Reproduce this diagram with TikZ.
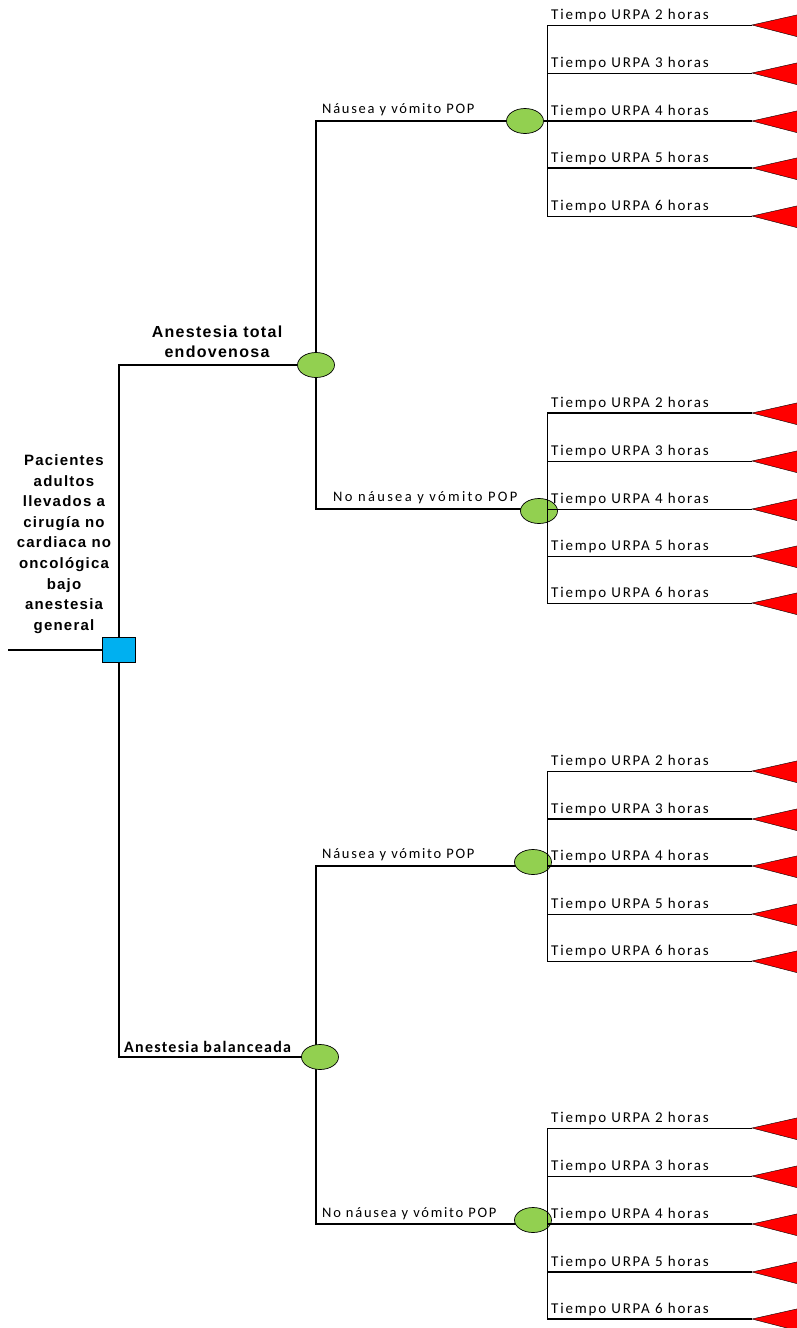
\documentclass[tikz,border=0pt]{standalone}
\usepackage{fontspec}
\setmainfont{Carlito}
\newfontfamily\lblfont[LetterSpace=12]{Carlito}
\newfontfamily\lblwide[LetterSpace=16]{Carlito}
\newfontfamily\lblbold[LetterSpace=8]{Carlito Bold}
\newfontfamily\arialbold[LetterSpace=8]{Liberation Sans Bold}
\usetikzlibrary{shapes.geometric,backgrounds}
\definecolor{chancegreen}{HTML}{92D050}
\definecolor{decblue}{HTML}{00B0F0}
\definecolor{termred}{HTML}{FF0000}
\begin{document}
\begin{tikzpicture}[x=1pt,y=-1pt,
  chance/.style={ellipse,draw=black,line width=0.7pt,fill=chancegreen,minimum width=37pt,minimum height=25pt,inner sep=0pt},
  decision/.style={rectangle,draw=black,line width=0.7pt,fill=decblue,minimum width=33pt,minimum height=25pt,inner sep=0pt},
  mainline/.style={line width=1.6pt},
  fanline/.style={line width=0.8pt},
  term/.style={fill=termred,draw=black,line width=0.4pt},
  leaflbl/.style={font=\lblfont\fontsize{15}{18}\selectfont,anchor=base west,inner sep=0pt},
  branchlbl/.style={font=\lblfont\fontsize{14.5}{18}\selectfont,anchor=base west,inner sep=0pt},
  boldlbl/.style={font=\lblbold\fontsize{16}{18}\selectfont,anchor=base west,inner sep=0pt},
  rootlbl/.style={font=\arialbold\fontsize{15}{20.6}\selectfont,align=center,inner sep=0pt}
]
\useasboundingbox (0,0) rectangle (796,1328);

% nodes
\node[decision] (d) at (119,650) {};
\coordinate (in) at (8,650);
\node[chance] (a1) at (316,365) {};
\node[chance] (a2) at (320,1057) {};
\node[chance] (b1) at (525,121) {};
\node[chance] (b2) at (539,511) {};
\node[chance] (c1) at (533,862) {};
\node[chance] (c2) at (533,1220) {};
\coordinate (fA) at (547,121);
\coordinate (fB) at (547,509);
\coordinate (fC) at (547,866);
\coordinate (fD) at (547,1224);

% labels
\node[rootlbl] (root) at (64,544) {Pacientes\\adultos\\llevados a\\cirugía no\\cardiaca no\\oncológica\\bajo\\anestesia\\general};
\node[rootlbl,font=\arialbold\fontsize{16}{20}\selectfont] (tiva) at (217,342) {Anestesia total\\endovenosa};
\node[boldlbl] (bal) at (124,1052) {Anestesia balanceada};
\node[branchlbl] (lb1) at (322,113) {Náusea y vómito POP};
\node[branchlbl,font=\lblwide\fontsize{14.5}{18}\selectfont] (lb2) at (333,501) {No náusea y vómito POP};
\node[branchlbl] (lc1) at (322,858) {Náusea y vómito POP};
\node[branchlbl] (lc2) at (322,1217) {No náusea y vómito POP};

\begin{scope}[on background layer]
  \fill[white] (0,0) rectangle (796,1328);
  \draw[mainline] (in) -- (d.west);
  \draw[mainline] (d) |- (a1);
  \draw[mainline] (d) |- (a2);
  \draw[mainline] (a1) |- (b1);
  \draw[mainline] (a1) |- (fB);
  \draw[mainline] (a2 -| a1) -- (a2);
  \draw[mainline] (a2 -| a1) |- (fC);
  \draw[mainline] (a2 -| a1) |- (fD);
  \draw[mainline] (b1) -- (fA);
\end{scope}

% leaves
\foreach \g/\top/\bot in {A/25/216,B/413/603,C/771/961,D/1128/1319}{
  \draw[fanline] (547,\top) -- (547,\bot);
}
\foreach \g/\i/\h/\yy/\lw in {
  A/1/2/25/0.8, A/2/3/73/0.8, A/3/4/121/1.6, A/4/5/168/1.6, A/5/6/216/0.8,
  B/1/2/413/1.6, B/2/3/461/0.8, B/3/4/509/0.8, B/4/5/556/0.8, B/5/6/603/0.8,
  C/1/2/771/0.8, C/2/3/819/1.6, C/3/4/866/1.6, C/4/5/914/0.8, C/5/6/961/0.8,
  D/1/2/1128/0.8, D/2/3/1176/0.8, D/3/4/1224/1.6, D/4/5/1272/1.6, D/5/6/1319/1.6}{
  \coordinate (t\g\i) at (752,\yy);
  \draw[line width=\lw pt] (f\g |- t\g\i) -- (t\g\i);
  \filldraw[term] (t\g\i) -- ++(58,-13) -- ++(0,28) -- cycle;
  \node[leaflbl] (l\g\i) at (551,\yy-6) {Tiempo URPA \h\ horas};
}
\end{tikzpicture}
\end{document}
